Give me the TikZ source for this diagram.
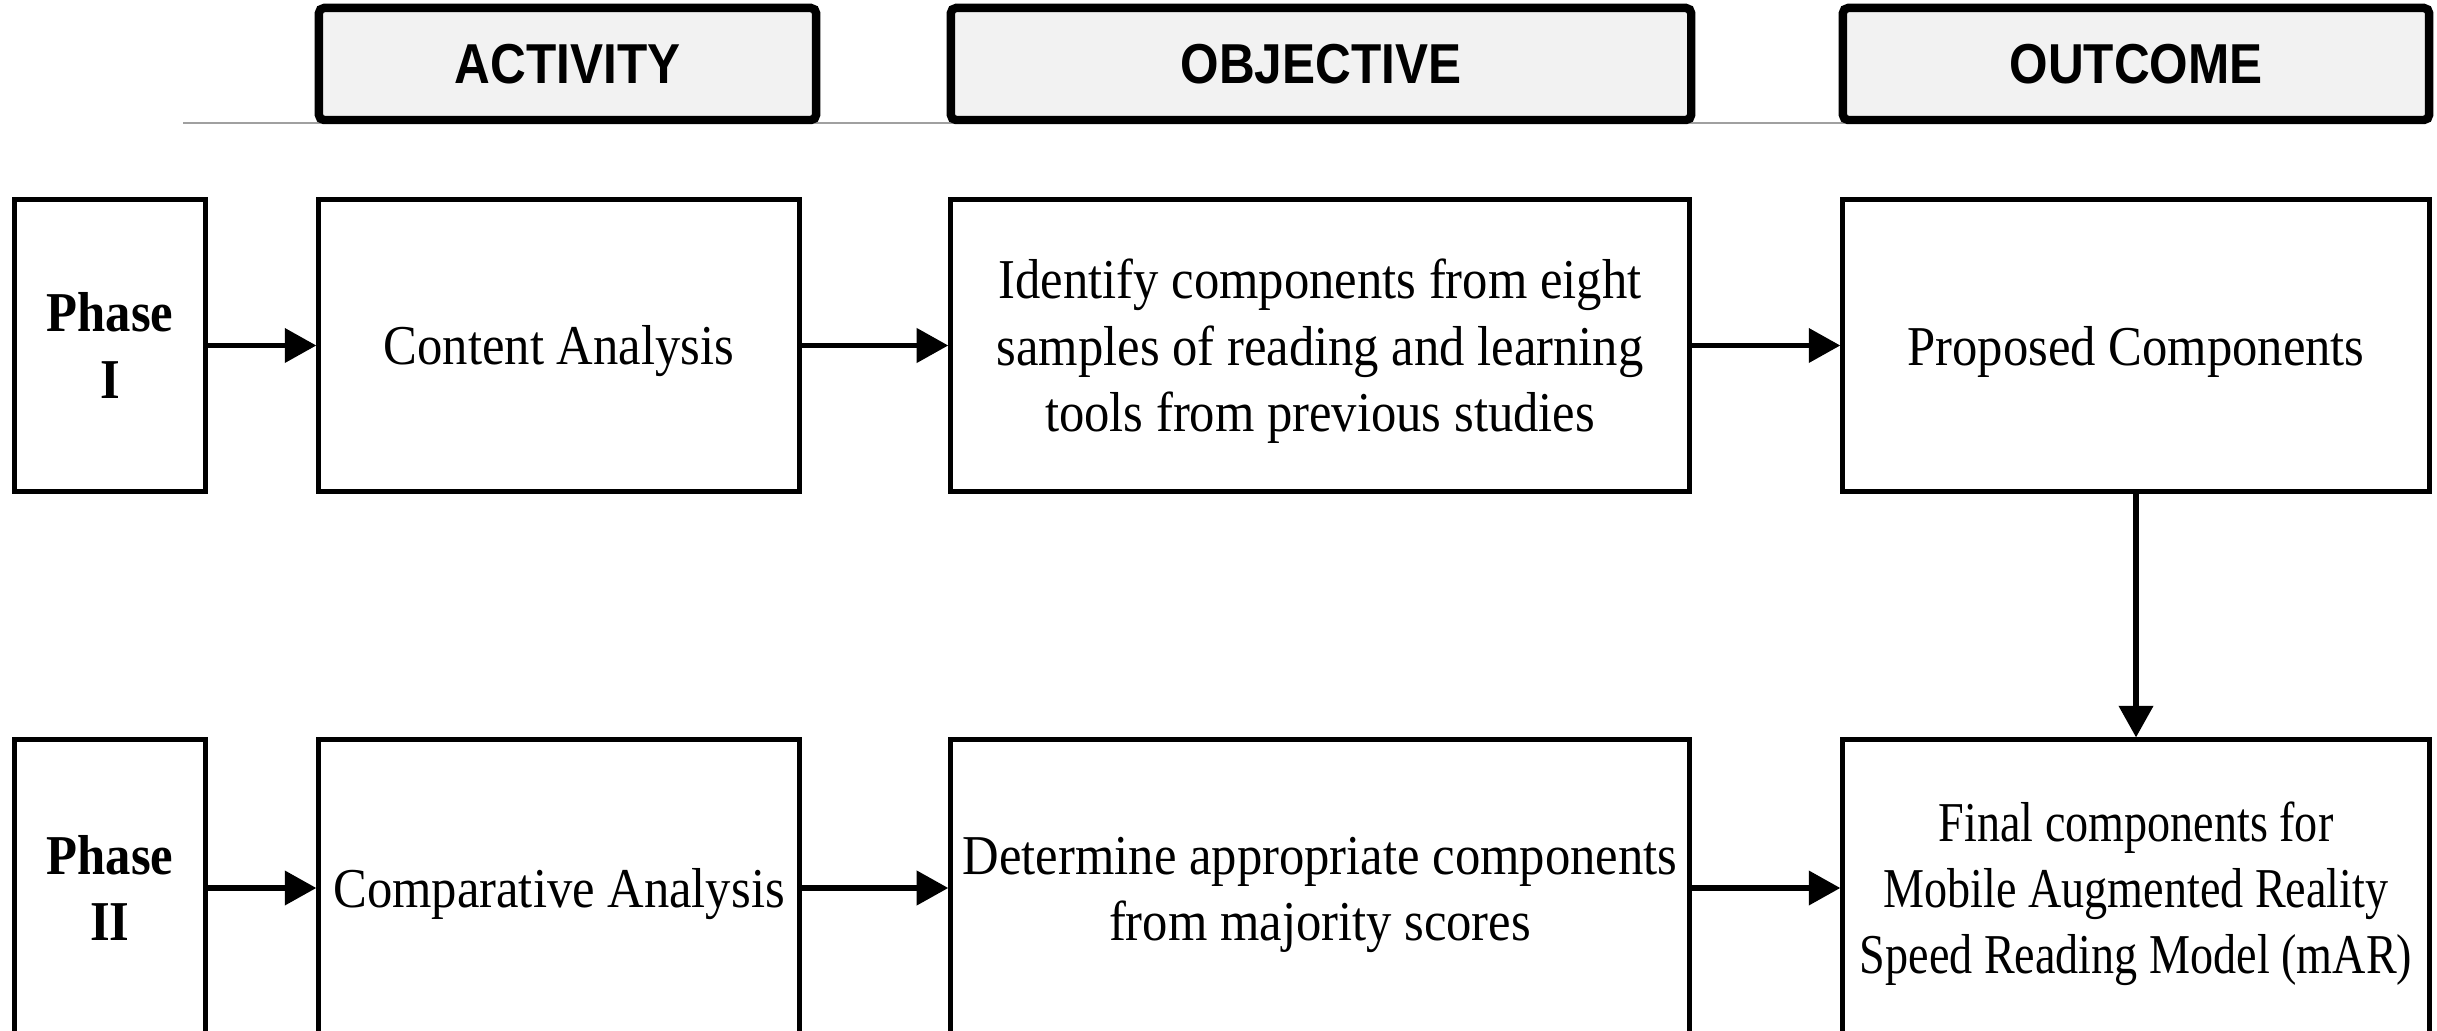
\documentclass[tikz,border=0pt]{standalone}
\usepackage{fontspec}
\setmainfont[FakeStretch=0.9]{Liberation Serif}
\newfontfamily\narrowserif[FakeStretch=0.82]{Liberation Serif}
\newfontfamily\hdrfont[FakeStretch=0.88]{Liberation Sans}
\usetikzlibrary{arrows.meta}
\definecolor{hdrfill}{HTML}{F2F2F2}
\definecolor{rulegray}{HTML}{A0A0A0}
\newcommand{\tup}{\rule{0pt}{14.5pt}}
\begin{document}
\begin{tikzpicture}[x=0.01cm,y=-0.01cm,
  box/.style={draw, line width=1.4pt, align=center, inner sep=0pt,
    font=\fontsize{16}{18.8}\selectfont},
  phasebox/.style={box, minimum width=1.9cm, font=\fontsize{16}{18.8}\selectfont\bfseries},
  hdr/.style={draw, line width=2.4pt, fill=hdrfill, rounded corners=1.5pt, inner sep=0pt,
    minimum height=1.12cm, font=\hdrfont\bfseries\fontsize{16}{18}\selectfont},
  arr/.style={line width=1.7pt, -{Triangle[length=9pt,width=9.5pt]}}]
\useasboundingbox (0,0) rectangle (2437,1031);

% header rule
\draw[rulegray, line width=0.6pt] (183,123) -- (2277,123);

% headers
\node[hdr, minimum width=4.97cm] (h1) at (567.5,64) {ACTIVITY};
\node[hdr, minimum width=7.40cm] (h2) at (1321,64) {OBJECTIVE};
\node[hdr, minimum width=5.86cm] (h3) at (2136,64) {OUTCOME};

% row 1
\node[phasebox, minimum height=2.91cm] (p1) at (110,345.5) {Phase\\I};
\node[box, minimum width=4.80cm, minimum height=2.91cm] (a1) at (559,345.5) {\tup Content Analysis};
\node[box, minimum width=7.38cm, minimum height=2.91cm] (b1) at (1320,345.5)
  {\tup Identify components from eight\\samples of reading and learning\\tools from previous studies};
\node[box, minimum width=5.86cm, minimum height=2.91cm] (c1) at (2136,345.5) {\tup Proposed Components};

% row 2
\node[phasebox, minimum height=2.96cm] (p2) at (110,888) {Phase\\II};
\node[box, minimum width=4.80cm, minimum height=2.96cm] (a2) at (559,888) {\tup Comparative Analysis};
\node[box, minimum width=7.38cm, minimum height=2.96cm] (b2) at (1320,888)
  {\tup Determine appropriate components\\from majority scores};
\node[box, minimum width=5.86cm, minimum height=2.96cm, font=\narrowserif\fontsize{16}{18.8}\selectfont] (c2) at (2136,888)
  {\tup Final components for\\Mobile Augmented Reality\\Speed Reading Model (mAR)};

% connectors
\draw[arr] (p1) -- (a1);
\draw[arr] (a1) -- (b1);
\draw[arr] (b1) -- (c1);
\draw[arr] (p2) -- (a2);
\draw[arr] (a2) -- (b2);
\draw[arr] (b2) -- (c2);
\draw[arr] (c1) -- (c2);
\end{tikzpicture}
\end{document}
